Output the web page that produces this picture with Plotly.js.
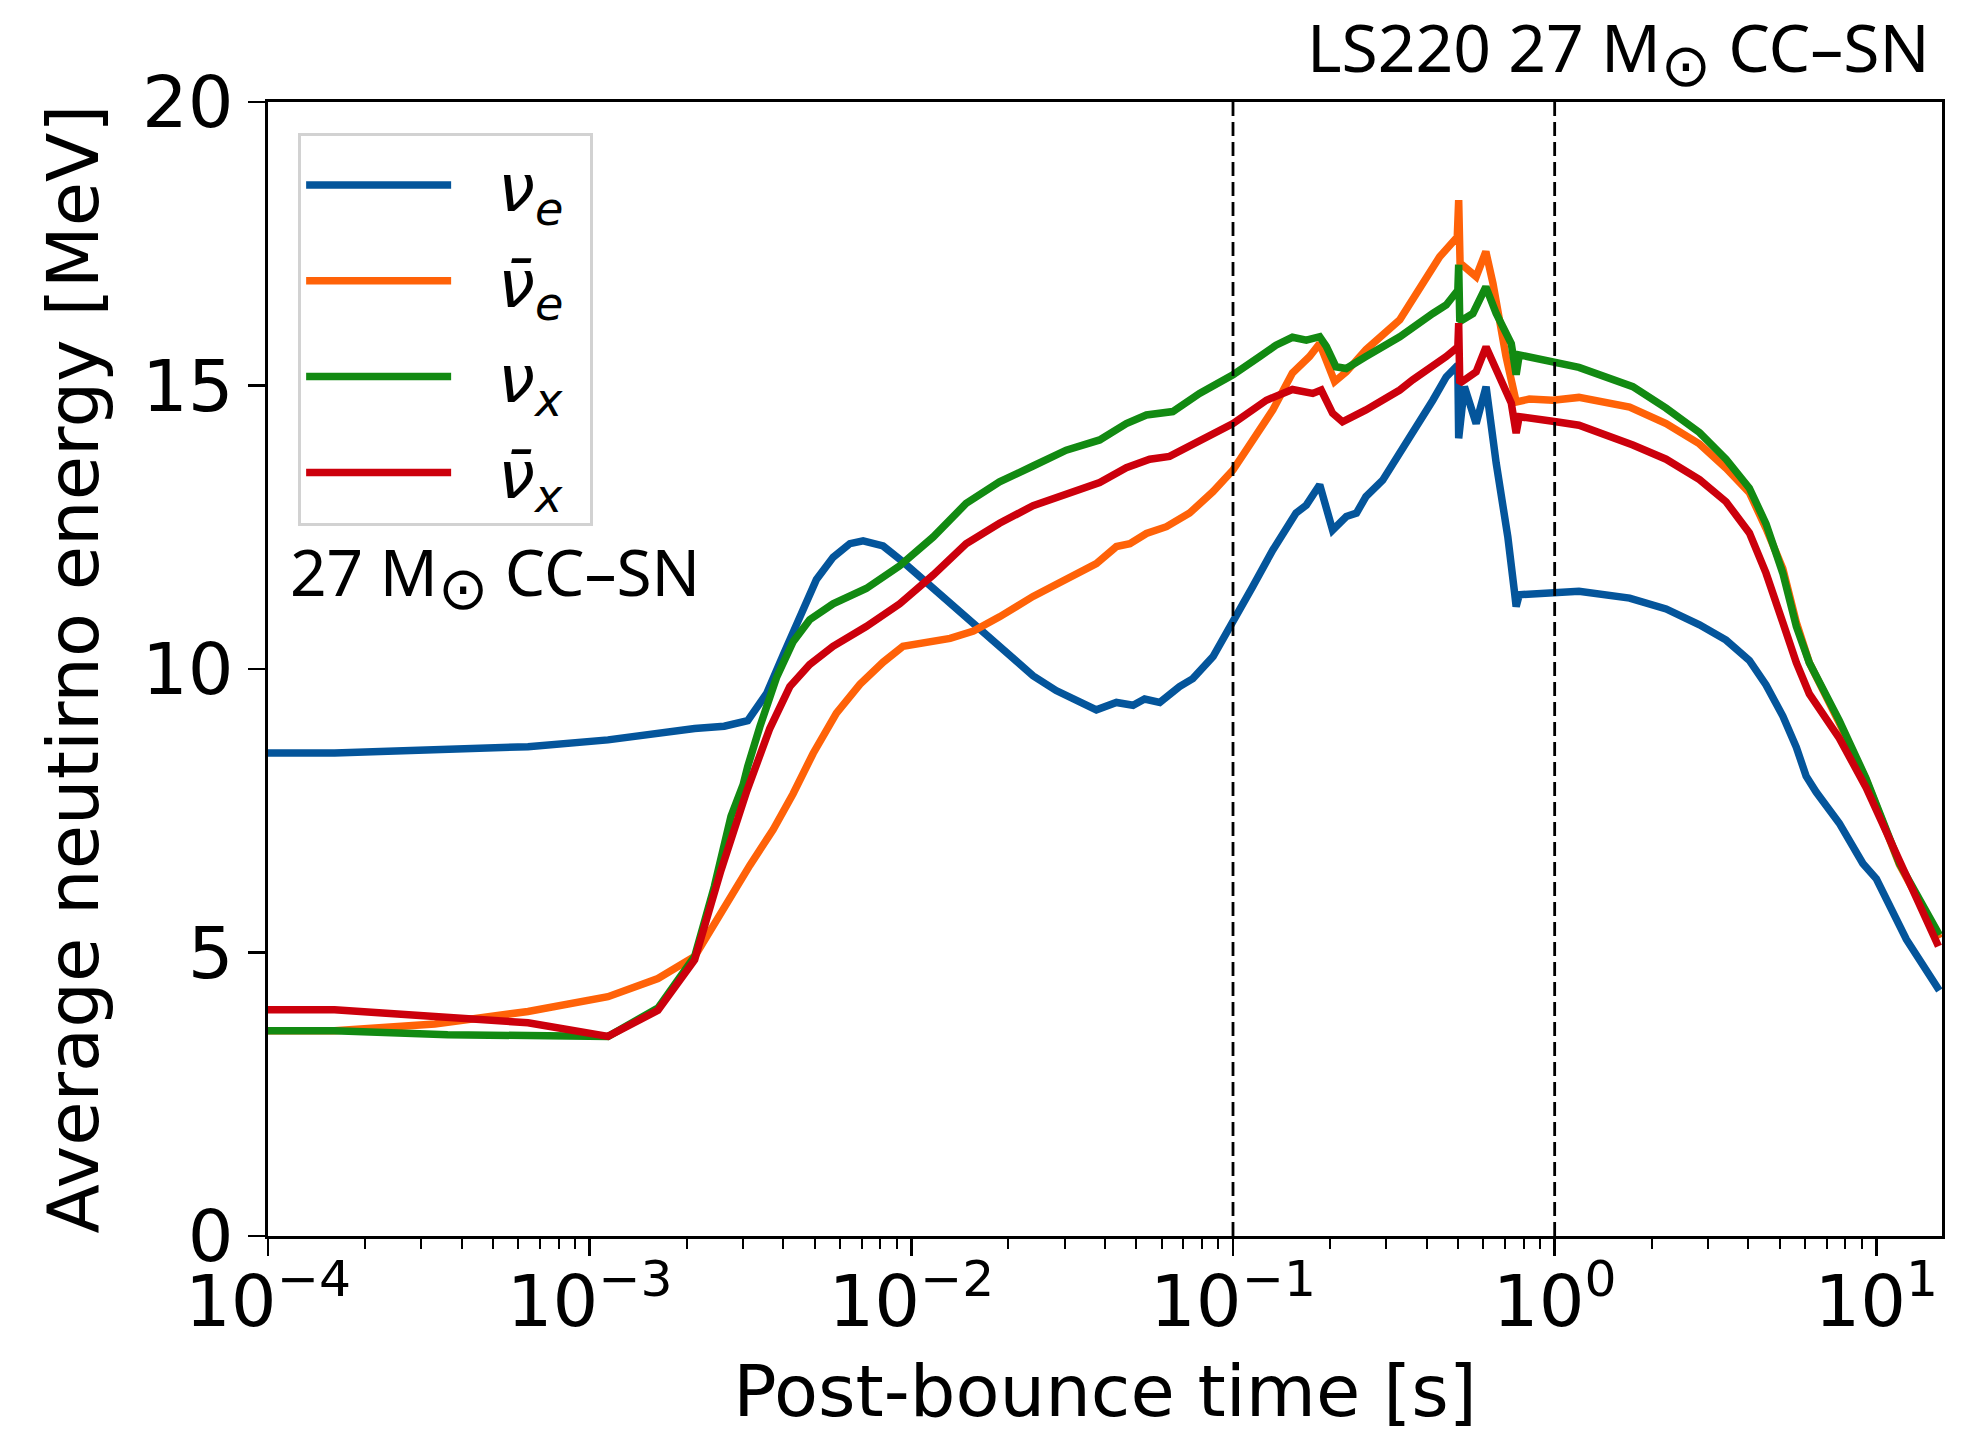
<!DOCTYPE html>
<html>
<head>
<meta charset="utf-8">
<script src="https://cdn.plot.ly/plotly-3.0.1.min.js"></script>
<style>html,body{margin:0;padding:0;background:#fff;}#chart{width:1977px;height:1433px;}</style>
</head>
<body>
<div id="chart"></div>
<script>
// ---- data (time in seconds, energy in MeV) ----
const nueTime = [1.0e-4,1.61e-4,6.43e-4,1.14e-3,2.12e-3,2.62e-3,3.10e-3,3.55e-3,3.99e-3,4.50e-3,5.07e-3,5.71e-3,6.44e-3,7.08e-3,8.17e-3,9.42e-3,1.17e-2,1.48e-2,1.88e-2,2.39e-2,2.82e-2,3.26e-2,3.76e-2,4.34e-2,4.89e-2,5.31e-2,5.92e-2,6.82e-2,7.50e-2,8.67e-2,0.100,0.115,0.133,0.157,0.169,0.186,0.204,0.225,0.242,0.259,0.292,0.330,0.367,0.418,0.460,0.500,0.503,0.524,0.570,0.612,0.658,0.715,0.750,0.759,0.776,0.986,1.19,1.71,2.22,2.82,3.41,4.03,4.54,5.12,5.64,6.05,6.50,7.67,9.08,10.0,12.4,15.7];
const nueEnergy = [8.52,8.52,8.63,8.75,8.95,8.99,9.09,9.57,10.24,10.95,11.58,11.97,12.21,12.26,12.17,11.89,11.42,10.95,10.41,9.88,9.62,9.45,9.28,9.41,9.36,9.47,9.41,9.69,9.83,10.22,10.81,11.45,12.10,12.75,12.89,13.25,12.45,12.69,12.75,13.04,13.33,13.80,14.22,14.74,15.15,15.36,14.07,14.98,14.33,14.98,13.63,12.33,11.36,11.10,11.31,11.34,11.37,11.25,11.06,10.78,10.51,10.15,9.72,9.17,8.62,8.11,7.83,7.28,6.57,6.30,5.23,4.33];

const anueTime = [1.0e-4,1.61e-4,3.30e-4,6.43e-4,1.14e-3,1.63e-3,2.12e-3,2.62e-3,3.15e-3,3.72e-3,4.29e-3,4.95e-3,5.85e-3,6.92e-3,8.17e-3,9.42e-3,1.11e-2,1.32e-2,1.56e-2,1.88e-2,2.39e-2,3.03e-2,3.76e-2,4.34e-2,4.78e-2,5.38e-2,6.21e-2,7.33e-2,8.67e-2,0.100,0.115,0.133,0.153,0.173,0.186,0.200,0.207,0.225,0.259,0.330,0.367,0.439,0.498,0.503,0.508,0.570,0.611,0.643,0.706,0.759,0.834,0.986,1.19,1.71,2.22,2.82,3.41,4.03,4.54,5.12,5.64,6.19,7.67,9.29,11.8,15.7];
const anueEnergy = [3.62,3.62,3.74,3.96,4.22,4.54,4.93,5.81,6.54,7.17,7.80,8.51,9.22,9.73,10.12,10.40,10.46,10.54,10.67,10.92,11.28,11.60,11.86,12.16,12.21,12.39,12.51,12.75,13.13,13.51,14.04,14.57,15.22,15.51,15.74,15.33,15.07,15.24,15.63,16.16,16.57,17.27,17.62,18.27,17.16,16.92,17.36,16.80,15.51,14.71,14.76,14.74,14.79,14.62,14.33,13.97,13.54,13.11,12.48,11.77,10.82,10.11,9.05,8.05,6.55,5.25];

const nuxTime = [1.0e-4,1.61e-4,3.62e-4,1.09e-3,1.14e-3,1.63e-3,2.12e-3,2.44e-3,2.75e-3,3.00e-3,3.10e-3,3.38e-3,3.81e-3,4.29e-3,4.83e-3,5.71e-3,7.24e-3,9.20e-3,1.17e-2,1.48e-2,1.88e-2,2.39e-2,3.03e-2,3.85e-2,4.66e-2,5.38e-2,6.50e-2,7.87e-2,0.100,0.121,0.136,0.153,0.169,0.186,0.195,0.209,0.225,0.259,0.330,0.418,0.460,0.500,0.503,0.507,0.557,0.611,0.658,0.733,0.759,0.776,0.986,1.19,1.75,2.22,2.82,3.41,4.03,4.54,5.12,5.64,6.19,7.67,9.29,11.8,15.7];
const nuxEnergy = [3.62,3.62,3.55,3.52,3.52,4.02,4.93,6.16,7.40,7.96,8.28,8.98,9.85,10.48,10.87,11.15,11.42,11.82,12.33,12.92,13.30,13.58,13.86,14.04,14.33,14.48,14.54,14.86,15.19,15.51,15.71,15.85,15.80,15.86,15.69,15.33,15.30,15.51,15.86,16.27,16.42,16.68,17.13,16.13,16.27,16.74,16.27,15.74,15.19,15.54,15.42,15.32,14.98,14.60,14.17,13.70,13.19,12.56,11.69,10.75,10.11,9.09,8.07,6.57,5.31];

const anuxTime = [1.0e-4,1.61e-4,3.30e-4,6.43e-4,1.14e-3,1.63e-3,2.12e-3,2.56e-3,3.08e-3,3.63e-3,4.19e-3,4.83e-3,5.71e-3,7.24e-3,9.20e-3,1.17e-2,1.48e-2,1.88e-2,2.39e-2,3.03e-2,3.85e-2,4.66e-2,5.51e-2,6.35e-2,7.87e-2,0.100,0.127,0.153,0.177,0.188,0.204,0.219,0.259,0.330,0.362,0.418,0.460,0.500,0.503,0.507,0.570,0.612,0.658,0.733,0.759,0.776,0.986,1.19,1.75,2.22,2.82,3.41,4.03,4.54,5.12,5.64,6.19,7.67,9.29,11.8,15.6];
const anuxEnergy = [3.99,3.99,3.87,3.76,3.52,3.98,4.87,6.45,7.85,8.95,9.69,10.08,10.40,10.75,11.15,11.66,12.21,12.57,12.88,13.09,13.29,13.55,13.70,13.75,14.04,14.33,14.74,14.93,14.86,14.92,14.51,14.36,14.57,14.92,15.10,15.33,15.51,15.68,16.10,15.04,15.24,15.68,15.27,14.69,14.16,14.45,14.37,14.30,13.95,13.70,13.34,12.95,12.40,11.69,10.82,10.11,9.56,8.78,7.91,6.65,5.11];

const markerTimes = [0.1, 1];          // vertical dashed reference lines
const energyRange = [0, 20];
const seriesNames = ['<i>ν</i><sub><i>e</i></sub>', '<i>ν̄</i><sub><i>e</i></sub>', '<i>ν</i><sub><i>x</i></sub>', '<i>ν̄</i><sub><i>x</i></sub>'];
const seriesColors = ['#04559b', '#ff6208', '#128a12', '#cc000c'];
const xTickVals = [1e-4, 1e-3, 1e-2, 1e-1, 1, 10];
const xTickText = ['10<sup>−4</sup>', '10<sup>−3</sup>', '10<sup>−2</sup>', '10<sup>−1</sup>', '10<sup>0</sup>', '10<sup>1</sup>'];
const xMinorVals = [2e-4,3e-4,4e-4,5e-4,6e-4,7e-4,8e-4,9e-4,2e-3,3e-3,4e-3,5e-3,6e-3,7e-3,8e-3,9e-3,0.02,0.03,0.04,0.05,0.06,0.07,0.08,0.09,0.2,0.3,0.4,0.5,0.6,0.7,0.8,0.9,2,3,4,5,6,7,8,9];
const yTickVals = [0, 5, 10, 15, 20];

const FONT = 'DejaVu Sans, sans-serif';
const NOTE_FONT = 'Noto Sans, DejaVu Sans, sans-serif';
const NB = '\u00A0';
const xs = [nueTime, anueTime, nuxTime, anuxTime];
const ys = [nueEnergy, anueEnergy, nuxEnergy, anuxEnergy];

const traces = xs.map((x, i) => ({
  x: x, y: ys[i], type: 'scatter', mode: 'lines',
  name: NB + NB + seriesNames[i] + NB, legendgroup: 'g' + i,
  line: {color: seriesColors[i], width: 7.5}
}));
markerTimes.forEach(t => traces.push({
  x: [t, t], y: energyRange, type: 'scatter', mode: 'lines', showlegend: false,
  line: {color: '#000', width: 2.8, dash: '14px,6px'}, hoverinfo: 'skip'
}));

const sun = '<sub><span style="font-size:60px">⊙</span></sub>';

const layout = {
  width: 1977, height: 1433,
  margin: {l: 268, r: 35, t: 102, b: 197},
  paper_bgcolor: '#fff', plot_bgcolor: '#fff',
  font: {family: FONT, color: '#000', size: 60},
  showlegend: true,
  legend: {
    x: 0.018, y: 0.973, xanchor: 'left', yanchor: 'top',
    bgcolor: 'rgba(255,255,255,0.8)', bordercolor: '#d2d2d2', borderwidth: 3,
    font: {family: FONT, size: 66, color: '#000'},
    itemwidth: 145, tracegroupgap: 7, traceorder: 'grouped'
  },
  xaxis: {
    type: 'log', range: [-4, Math.log10(16)],
    tickmode: 'array', tickvals: xTickVals, ticktext: xTickText,
    ticks: 'outside', ticklen: 17, tickwidth: 2.5, tickcolor: '#000',
    ticklabelstandoff: -16,
    minor: {tickmode: 'array', tickvals: xMinorVals, ticks: 'outside', ticklen: 10, tickwidth: 2, tickcolor: '#000', showgrid: false},
    showline: true, linecolor: '#000', linewidth: 3, mirror: true,
    showgrid: false, zeroline: false,
    tickfont: {family: FONT, size: 72, color: '#000'},
    title: {text: 'Post-bounce time [s]', font: {family: FONT, size: 72, color: '#000'}, standoff: 26}
  },
  yaxis: {
    range: energyRange,
    tickmode: 'array', tickvals: yTickVals,
    ticks: 'outside', ticklen: 17, tickwidth: 2.5, tickcolor: '#000',
    showline: true, linecolor: '#000', linewidth: 3, mirror: true,
    showgrid: false, zeroline: false,
    tickfont: {family: FONT, size: 72, color: '#000'},
    title: {text: 'Average neutirno energy [MeV]', font: {family: FONT, size: 72, color: '#000'}, standoff: 20}
  },
  annotations: [
    {text: 'LS220 27 M' + sun + ' CC–SN', xref: 'paper', yref: 'paper', x: 0.994, y: 1.044,
     xanchor: 'right', yanchor: 'middle', showarrow: false, font: {family: NOTE_FONT, size: 66, color: '#000'}},
    {text: '27 M' + sun + ' CC–SN', xref: 'paper', yref: 'paper', x: 0.012, y: 0.581,
     xanchor: 'left', yanchor: 'middle', showarrow: false, font: {family: NOTE_FONT, size: 64, color: '#000'}}
  ]
};

Plotly.newPlot('chart', traces, layout, {displayModeBar: false, staticPlot: true});
</script>
</body>
</html>
